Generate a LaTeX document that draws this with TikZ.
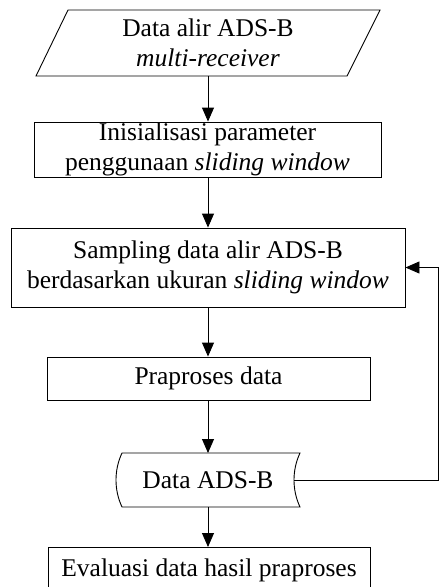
\documentclass[tikz,border=0pt]{standalone}
\usepackage{fontspec}
\setmainfont{Liberation Serif}
\usetikzlibrary{arrows.meta}
\begin{document}
\begin{tikzpicture}[x=1pt,y=1pt,
  every node/.style={font=\fontsize{25.5}{29.5}\selectfont, align=center, inner sep=0pt},
  box/.style={draw, line width=0.9pt},
  line/.style={line width=0.9pt},
  arr/.style={line width=0.9pt, -{Triangle[length=14pt,width=12pt]}}]
\useasboundingbox (0,0) rectangle (441,-587);
\clip (0,0) rectangle (441,-587);
% input parallelogram
\node (a) [minimum width=280pt, minimum height=66pt] at (208,-43) {Data alir ADS-B\\\textit{multi-receiver}};
\draw[line] (68,-10) -- (380,-10) -- (347,-76) -- (36,-76) -- cycle;
% boxes
\node (b) [box, minimum width=347pt, minimum height=55pt] at (207.5,-149.5) {Inisialisasi parameter\\penggunaan \textit{sliding window}};
\node (c) [box, minimum width=394pt, minimum height=79pt] at (208,-267.5) {Sampling data alir ADS-B\\berdasarkan ukuran \textit{sliding window}};
\node (p) [box, minimum width=323pt, minimum height=43pt] at (208.5,-378.5) {Praproses data};
% stored data
\node (d) [minimum width=172pt, minimum height=54pt] at (208,-480) {Data ADS-B};
\draw[line] (122,-453) -- (300,-453) .. controls (292,-470) and (292,-490) .. (300,-507)
  -- (122,-507) .. controls (114,-490) and (114,-470) .. (122,-453) -- cycle;
\node (e) [box, minimum width=322pt, minimum height=46pt, anchor=north] at (209,-547) {\raisebox{-6pt}{Evaluasi data hasil praproses}};
% connectors
\draw[arr] (208,-76) -- (b.north -| 208,0);
\draw[arr] (b.south -| 208,0) -- (c.north -| 208,0);
\draw[arr] (c.south -| 208,0) -- (p.north -| 208,0);
\draw[arr] (p.south -| 208,0) -- (208,-453);
\draw[arr] (208,-507) -- (e.north -| 208,0);
\coordinate (r) at (438,-480);
\draw[arr] (d.east) -- (r) |- (c.east);
\end{tikzpicture}
\end{document}
